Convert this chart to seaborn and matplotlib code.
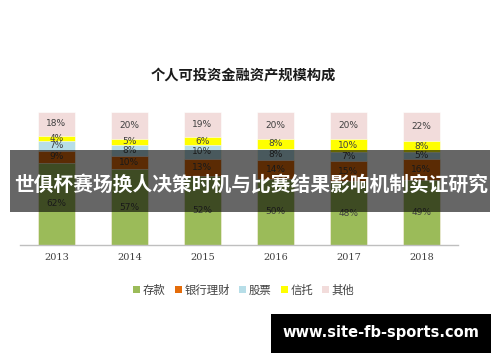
import matplotlib
matplotlib.use("Agg")
import matplotlib.pyplot as plt
import seaborn as sns
import pandas as pd
import numpy as np
from matplotlib.patches import Rectangle, Patch

years = ["2013", "2014", "2015", "2016", "2017", "2018"]
series_names = ["存款", "银行理财", "股票", "信托", "其他"]
deposit = [62, 57, 52, 50, 48, 49]
bank_wm = [9, 10, 13, 14, 15, 16]
stocks = [7, 8, 10, 8, 7, 5]
trust = [4, 5, 6, 8, 10, 8]
other = [18, 20, 19, 20, 20, 22]
colors = ["#9BBB59", "#E46C0A", "#B7DEE8", "#FFFF00", "#F2DCDB"]
title = "个人可投资金融资产规模构成"
banner_text = "世俱杯赛场换人决策时机与比赛结果影响机制实证研究"
watermark = "www.site-fb-sports.com"

sns.set_style("white")
plt.rcParams['font.family'] = ['Noto Sans CJK SC', 'DejaVu Sans']

series = [deposit, bank_wm, stocks, trust, other]
cum = np.cumsum(np.array(series), axis=0)

fig = plt.figure(figsize=(5, 3.62), dpi=100)
ax = fig.add_axes([20/500, 1 - 245/362, 438/500, 133/362])

# draw from top-of-stack down so lower layers cover upper ones
for i in range(len(series) - 1, -1, -1):
    d = pd.DataFrame({"year": years, "v": cum[i]})
    sns.barplot(data=d, x="year", y="v", color=colors[i], width=0.507,
                saturation=1, ax=ax, edgecolor="white", linewidth=0.4)

# labels
for i, s in enumerate(series):
    for j, v in enumerate(s):
        yc = cum[i][j] - v / 2
        ax.text(j, yc, f"{v}%", ha="center", va="center", fontsize=6.5,
                color="#404040", family=["DejaVu Sans"])

ax.set_xlim(-0.5, 5.5)
ax.set_ylim(0, 100)
ax.set_xlabel("")
ax.set_ylabel("")
ax.set_yticks([])
for sp in ["top", "right", "left"]:
    ax.spines[sp].set_visible(False)
ax.spines["bottom"].set_color("#BFBFBF")
ax.spines["bottom"].set_linewidth(1.0)
ax.tick_params(axis="x", length=0, pad=6, labelsize=7, labelcolor="#404040")
for lab in ax.get_xticklabels():
    lab.set_family(["DejaVu Serif"])

fig.text(243/500, 1 - 75/362, title, ha="center", va="center",
         fontsize=10.3, fontweight="bold", color="#1a1a1a")

handles = [Patch(facecolor=c, edgecolor="none", label=n) for c, n in zip(colors, series_names)]
fig.legend(handles=handles, loc="center", bbox_to_anchor=(244/500, 1 - 290/362),
           ncol=5, frameon=False, fontsize=8.2, handlelength=0.6, handleheight=0.6,
           handletextpad=0.25, columnspacing=0.8, labelcolor="#404040")

# overlay banner
fig.patches.append(Rectangle((10/500, 1 - 212/362), 480/500, 62/362,
                             transform=fig.transFigure, facecolor="black",
                             alpha=0.6, edgecolor="none", zorder=5))
fig.text(251/500, 1 - 185/362, banner_text, ha="center", va="center",
         fontsize=14.2, fontweight="bold", color="white", zorder=6)

# watermark
fig.patches.append(Rectangle((271/500, 1 - 353/362), 220/500, 39/362,
                             transform=fig.transFigure, facecolor="black",
                             edgecolor="none", zorder=5))
fig.text(381/500, 1 - 333/362, watermark, ha="center", va="center",
         fontsize=10.5, fontweight="bold", color="white", zorder=6,
         family=["DejaVu Sans"])

fig.savefig("out.png", dpi=100)
